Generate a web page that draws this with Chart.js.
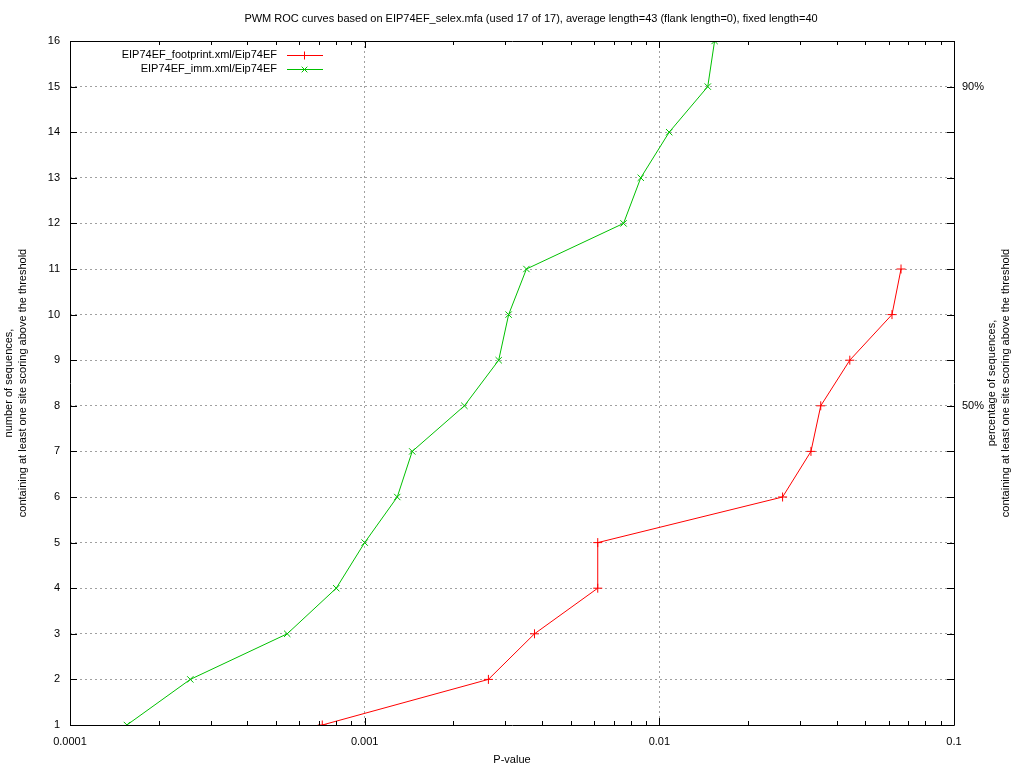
<!DOCTYPE html>
<html>
<head>
<meta charset="utf-8">
<script src="https://cdn.jsdelivr.net/npm/chart.js@4.4.1/dist/chart.umd.min.js"></script>
<style>
  html, body { margin: 0; padding: 0; background: #fff; }
  #wrap { width: 1024px; height: 768px; }
</style>
</head>
<body>
<div id="wrap"><canvas id="rocChart" width="1024" height="768"></canvas></div>
<script>
// chart data
const chartTitle = 'PWM ROC curves based on EIP74EF_selex.mfa (used 17 of 17), average length=43 (flank length=0), fixed length=40';
const seriesNames = ['EIP74EF_footprint.xml/Eip74EF', 'EIP74EF_imm.xml/Eip74EF'];
const seriesColors = ['#ff0000', '#00c000'];

// footprint curve: P-value vs number of sequences
const footprintP = [7.18e-4, 2.63e-3, 3.77e-3, 6.18e-3, 6.18e-3, 2.62e-2, 3.27e-2, 3.53e-2, 4.43e-2, 6.16e-2, 6.61e-2];
const footprintN = [1, 2, 3, 4, 5, 6, 7, 8, 9, 10, 11];

// imm curve
const immP = [1.56e-4, 2.56e-4, 5.46e-4, 8.01e-4, 1.0e-3, 1.29e-3, 1.45e-3, 2.18e-3, 2.85e-3, 3.08e-3, 3.54e-3, 7.56e-3, 8.65e-3, 1.08e-2, 1.46e-2, 1.54e-2];
const immN = [1, 2, 3, 4, 5, 6, 7, 8, 9, 10, 11, 12, 13, 14, 15, 16];

// axis tick labels
const xTickValues = [0.0001, 0.001, 0.01, 0.1];
const xTickLabels = ['0.0001', '0.001', '0.01', '0.1'];
const yTickValues = [1, 2, 3, 4, 5, 6, 7, 8, 9, 10, 11, 12, 13, 14, 15, 16];
const y2TickValues = [8, 15];
const y2TickLabels = ['50%', '90%'];

const xTitle = 'P-value';
const yTitleLines = ['number of sequences,', 'containing at least one site scoring above the threshold'];
const y2TitleLines = ['percentage of sequences,', 'containing at least one site scoring above the threshold'];

const FONT = '11px "Liberation Sans", Arial, sans-serif';
const GRID = '#a0a0a0';

function toPoints(xs, ys) {
    return xs.map((x, i) => ({ x: x, y: ys[i] }));
}

// gnuplot style furniture: inward ticks, mirrored axes, titles and legend box
const gnuplotDecor = {
    id: 'gnuplotDecor',
    afterDraw(chart) {
        const ctx = chart.ctx;
        const a = chart.chartArea;
        const xs = chart.scales.x;
        const ys = chart.scales.y;
        ctx.save();
        ctx.strokeStyle = '#000';
        ctx.lineWidth = 1;
        ctx.setLineDash([]);
        ctx.beginPath();
        ctx.rect(Math.round(a.left) + 0.5, Math.round(a.top) + 0.5, Math.round(a.right - a.left), Math.round(a.bottom - a.top));
        ctx.stroke();

        // log ticks along x (bottom and top)
        ctx.beginPath();
        for (let d = -4; d < -1; d++) {
            for (let m = 1; m <= 10; m++) {
                const v = m * Math.pow(10, d);
                const px = Math.round(xs.getPixelForValue(v)) + 0.5;
                const len = (m === 1 || m === 10) ? 7 : 4;
                ctx.moveTo(px, a.bottom); ctx.lineTo(px, a.bottom - len);
                ctx.moveTo(px, a.top); ctx.lineTo(px, a.top + len);
            }
        }
        // y ticks left and right
        yTickValues.forEach(v => {
            const py = Math.round(ys.getPixelForValue(v)) + 0.5;
            ctx.moveTo(a.left, py); ctx.lineTo(a.left + 7, py);
            ctx.moveTo(a.right, py); ctx.lineTo(a.right - 7, py);
        });
        ctx.stroke();

        ctx.fillStyle = '#000';
        ctx.font = FONT;
        // title
        ctx.textAlign = 'center';
        ctx.textBaseline = 'middle';
        ctx.fillText(chartTitle, 531, 19);
        // x title
        ctx.fillText(xTitle, 512, 760);
        // y2 tick labels
        ctx.textAlign = 'left';
        y2TickValues.forEach((v, i) => {
            ctx.fillText(y2TickLabels[i], a.right + 8, ys.getPixelForValue(v));
        });
        // rotated axis titles
        const cy = (a.top + a.bottom) / 2;
        [[yTitleLines, 9], [y2TitleLines, 992]].forEach(([lines, x0]) => {
            ctx.save();
            ctx.translate(x0, cy);
            ctx.rotate(-Math.PI / 2);
            ctx.textAlign = 'center';
            lines.forEach((t, i) => ctx.fillText(t, 0, i * 14));
            ctx.restore();
        });

        // legend
        const rows = [55, 69];
        const styles = ['cross', 'crossRot'];
        rows.forEach((ry, i) => {
            ctx.textAlign = 'right';
            ctx.fillStyle = '#000';
            ctx.fillText(seriesNames[i], 277, ry);
            ctx.strokeStyle = seriesColors[i];
            ctx.beginPath();
            ctx.moveTo(287, ry + 0.5); ctx.lineTo(323, ry + 0.5);
            ctx.stroke();
            ctx.strokeStyle = seriesColors[i];
            Chart.helpers.drawPoint(ctx, { pointStyle: styles[i], radius: 4, borderWidth: 1 }, 304.5, ry + 0.5);
        });
        ctx.restore();
    }
};

const gridOpts = (edgeA, edgeB) => ({
    drawTicks: false,
    lineWidth: 1,
    color: c => (c.tick && (c.tick.value === edgeA || c.tick.value === edgeB)) ? 'rgba(0,0,0,0)' : GRID
});

const rocChart = new Chart(document.getElementById('rocChart'), {
    type: 'line',
    data: {
        datasets: [
            {
                label: seriesNames[0],
                data: toPoints(footprintP, footprintN),
                borderColor: seriesColors[0],
                backgroundColor: seriesColors[0],
                borderWidth: 1,
                pointStyle: 'cross',
                pointRadius: 4.5,
                pointBorderWidth: 1,
                tension: 0,
                fill: false
            },
            {
                label: seriesNames[1],
                data: toPoints(immP, immN),
                borderColor: seriesColors[1],
                backgroundColor: seriesColors[1],
                borderWidth: 1,
                pointStyle: 'crossRot',
                pointRadius: 4.5,
                pointBorderWidth: 1,
                tension: 0,
                fill: false
            }
        ]
    },
    options: {
        responsive: false,
        animation: false,
        devicePixelRatio: 1,
        layout: { padding: { top: 41, right: 0, left: 0, bottom: 0 } },
        plugins: { legend: { display: false }, title: { display: false }, tooltip: { enabled: false } },
        scales: {
            x: {
                type: 'logarithmic',
                min: 0.0001,
                max: 0.1,
                afterBuildTicks: s => { s.ticks = xTickValues.map(v => ({ value: v })); },
                afterFit: s => { s.height = 43; },
                border: { display: false, dash: [2, 3] },
                grid: gridOpts(0.0001, 0.1),
                ticks: {
                    color: '#000',
                    font: { family: '"Liberation Sans", Arial, sans-serif', size: 11 },
                    padding: 10,
                    maxRotation: 0,
                    autoSkip: false,
                    callback: (v) => { const i = xTickValues.indexOf(v); return i >= 0 ? xTickLabels[i] : ''; }
                }
            },
            y: {
                type: 'linear',
                min: 1,
                max: 16,
                afterBuildTicks: s => { s.ticks = yTickValues.map(v => ({ value: v })); },
                afterFit: s => { s.width = 70; },
                border: { display: false, dash: [2, 3] },
                grid: gridOpts(1, 16),
                ticks: {
                    color: '#000',
                    font: { family: '"Liberation Sans", Arial, sans-serif', size: 11 },
                    padding: 10,
                    autoSkip: false
                }
            },
            y2: {
                type: 'linear',
                position: 'right',
                min: 1,
                max: 16,
                afterFit: s => { s.width = 70; },
                border: { display: false },
                grid: { display: false, drawTicks: false },
                ticks: { display: false }
            }
        }
    },
    plugins: [gnuplotDecor]
});
</script>
</body>
</html>
